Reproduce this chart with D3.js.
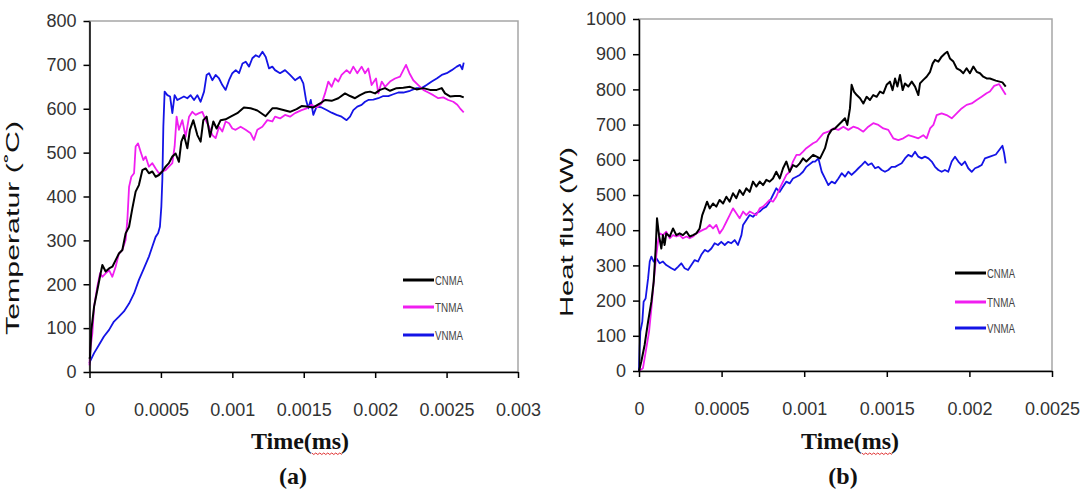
<!DOCTYPE html>
<html>
<head>
<meta charset="utf-8">
<script src="https://cdn.jsdelivr.net/npm/d3@7"></script>
<style>
  body { margin: 0; background: #fff; }
  svg { display: block; }
</style>
</head>
<body>
<svg id="Figure"></svg>
<script>
// series names + ticks
const seriesNames = ['CNMA', 'TNMA', 'VNMA'];
const tempTicks = [0, 100, 200, 300, 400, 500, 600, 700, 800];
const fluxTicks = [0, 100, 200, 300, 400, 500, 600, 700, 800, 900, 1000];
const timeTicksA = [0, 0.0005, 0.001, 0.0015, 0.002, 0.0025, 0.003];
const timeTicksB = [0, 0.0005, 0.001, 0.0015, 0.002, 0.0025];

// (a) temperature, [time, value]
const cnmaTemp = [[0,30],[0.000004,35],[0.000013,96],[0.000032,149],[0.000055,187],[0.000078,225],[0.00009,244],[0.000113,229],[0.000137,236],[0.00016,240],[0.000183,255],[0.000206,270],[0.00023,278],[0.000253,316],[0.000277,331],[0.0003,373],[0.000323,411],[0.000346,426],[0.00037,460],[0.000393,464],[0.000416,453],[0.00044,457],[0.000463,445],[0.000486,449],[0.00051,457],[0.000533,468],[0.000556,476],[0.00058,491],[0.000603,498],[0.000626,479],[0.000643,525],[0.000661,540],[0.000685,510],[0.000703,552],[0.000727,574],[0.000755,540],[0.000778,525],[0.000797,574],[0.00082,582],[0.000844,536],[0.000867,571],[0.00089,555],[0.000918,574],[0.000953,576],[0.000988,582],[0.001035,590],[0.001081,603],[0.001128,601],[0.001175,596],[0.001233,583],[0.00128,601],[0.00131,601],[0.001357,597],[0.001404,593],[0.00145,599],[0.001485,606],[0.00152,605],[0.001567,603],[0.001614,612],[0.001649,620],[0.001695,618],[0.001742,624],[0.001789,635],[0.001824,629],[0.001859,624],[0.001894,631],[0.001929,637],[0.001964,639],[0.001999,635],[0.002034,643],[0.002069,647],[0.002104,641],[0.00215,647],[0.002197,648],[0.002244,650],[0.00229,644],[0.002337,647],[0.002384,643],[0.002431,643],[0.002466,647],[0.002489,635],[0.002524,628],[0.002559,629],[0.002594,629],[0.00262,626]];
const tnmaTemp = [[0,15],[0.000004,40],[0.000008,58],[0.00002,88],[0.000032,149],[0.000055,195],[0.000074,225],[0.00009,217],[0.000113,225],[0.000137,232],[0.00016,217],[0.000183,240],[0.000206,270],[0.00023,278],[0.000253,301],[0.000265,346],[0.000277,422],[0.000293,445],[0.000312,453],[0.000323,514],[0.00034,521],[0.000358,502],[0.000377,483],[0.000393,491],[0.000416,468],[0.00044,476],[0.000463,464],[0.000486,453],[0.00051,457],[0.000533,460],[0.000556,468],[0.00058,476],[0.000596,514],[0.00061,582],[0.000626,552],[0.00065,574],[0.000673,536],[0.000697,582],[0.00072,593],[0.000743,586],[0.000767,590],[0.00079,593],[0.000813,574],[0.000837,559],[0.00086,540],[0.000883,533],[0.000907,559],[0.00093,548],[0.000953,571],[0.000977,567],[0.001,555],[0.001023,552],[0.001058,559],[0.001093,552],[0.001128,544],[0.001151,529],[0.001175,552],[0.00121,559],[0.001245,574],[0.00128,571],[0.001299,582],[0.001334,578],[0.001369,586],[0.001404,582],[0.001439,590],[0.001485,597],[0.00152,601],[0.001555,609],[0.00159,603],[0.001625,612],[0.001649,635],[0.001672,662],[0.001695,650],[0.001719,669],[0.001742,662],[0.001765,677],[0.0018,688],[0.001824,681],[0.001847,696],[0.001875,681],[0.001905,696],[0.001929,681],[0.001952,692],[0.001975,654],[0.002006,669],[0.002022,635],[0.002046,662],[0.002069,650],[0.002104,662],[0.002139,669],[0.002174,673],[0.002197,688],[0.002216,700],[0.00224,681],[0.002267,665],[0.002302,654],[0.002337,643],[0.002372,637],[0.002407,631],[0.002442,624],[0.002477,626],[0.002512,620],[0.002547,616],[0.002575,609],[0.002594,601],[0.00262,592]];
const vnmaTemp = [[0,20],[0.000004,24],[0.000032,43],[0.000067,62],[0.000101,81],[0.000137,96],[0.000171,115],[0.000206,126],[0.000241,138],[0.000277,156],[0.000312,179],[0.000346,210],[0.000381,236],[0.000416,263],[0.00044,286],[0.000463,308],[0.00048,316],[0.000493,331],[0.000503,377],[0.00051,438],[0.000517,559],[0.000526,639],[0.000545,631],[0.000564,628],[0.00058,590],[0.000596,631],[0.000615,620],[0.000638,624],[0.000661,628],[0.000685,624],[0.000708,631],[0.000732,620],[0.000755,631],[0.000778,616],[0.000802,639],[0.00082,677],[0.000837,681],[0.00086,665],[0.000883,677],[0.000907,669],[0.00093,654],[0.000953,643],[0.000977,665],[0.001,681],[0.001024,688],[0.001047,681],[0.001071,703],[0.001094,707],[0.001117,696],[0.00114,715],[0.001164,722],[0.001187,718],[0.001211,730],[0.001234,718],[0.001257,692],[0.00128,696],[0.001299,688],[0.001334,681],[0.001369,688],[0.001404,677],[0.001439,665],[0.001474,673],[0.001497,658],[0.001516,620],[0.001532,601],[0.001549,620],[0.001567,586],[0.00159,605],[0.001625,603],[0.00166,597],[0.001695,591],[0.00173,586],[0.001765,582],[0.0018,574],[0.001824,582],[0.001847,597],[0.001875,605],[0.001905,609],[0.001929,616],[0.001952,620],[0.001987,621],[0.002022,624],[0.002057,629],[0.002092,629],[0.002127,633],[0.002162,637],[0.002197,637],[0.002244,641],[0.00229,647],[0.002325,647],[0.00236,654],[0.002396,662],[0.002431,669],[0.002466,677],[0.002501,681],[0.002536,688],[0.002571,696],[0.002594,700],[0.00261,690],[0.00262,705]];

// (b) heat flux, [time, value]
const cnmaFlux = [[0,0],[0.000014,27],[0.000034,74],[0.000055,140],[0.000075,197],[0.000089,254],[0.000101,348],[0.000109,434],[0.000121,386],[0.000135,348],[0.000145,386],[0.000155,358],[0.000165,391],[0.000186,382],[0.000206,405],[0.000226,386],[0.000246,391],[0.000266,386],[0.000287,396],[0.000307,382],[0.000327,386],[0.000347,391],[0.000367,405],[0.000383,443],[0.000398,462],[0.000412,481],[0.000428,462],[0.000448,476],[0.000468,467],[0.000488,486],[0.000509,476],[0.000529,495],[0.000549,481],[0.000569,505],[0.000589,491],[0.000609,514],[0.00063,500],[0.00065,519],[0.00067,509],[0.00069,538],[0.00071,524],[0.000731,538],[0.000751,528],[0.000771,543],[0.000791,538],[0.000811,547],[0.000831,566],[0.000852,547],[0.000872,576],[0.000892,595],[0.000912,566],[0.000932,585],[0.000953,580],[0.000973,590],[0.000993,604],[0.001013,595],[0.001054,614],[0.001096,604],[0.001126,633],[0.001146,670],[0.001166,685],[0.001186,689],[0.001207,699],[0.001227,708],[0.001247,718],[0.001261,699],[0.001277,746],[0.001287,813],[0.001301,794],[0.001318,784],[0.001338,775],[0.001358,760],[0.001378,779],[0.001398,770],[0.001418,784],[0.001439,779],[0.001459,794],[0.001479,789],[0.001499,813],[0.001519,822],[0.001535,798],[0.00155,831],[0.001564,808],[0.00158,841],[0.001596,798],[0.00161,817],[0.00163,808],[0.001651,822],[0.001671,808],[0.001691,784],[0.001701,817],[0.001721,827],[0.001741,836],[0.001762,850],[0.001778,874],[0.001792,884],[0.001812,879],[0.001832,893],[0.001852,902],[0.001866,907],[0.001882,888],[0.001903,879],[0.001923,860],[0.001943,855],[0.001963,846],[0.001983,860],[0.002003,846],[0.002024,865],[0.002044,850],[0.002064,846],[0.002084,836],[0.002104,831],[0.002124,831],[0.00216,825],[0.0022,820],[0.00222,808]];
const tnmaFlux = [[0,0],[0.000024,8],[0.000044,64],[0.000061,112],[0.000075,178],[0.000089,254],[0.000105,330],[0.000115,367],[0.000125,391],[0.000145,386],[0.000165,396],[0.000186,377],[0.000206,386],[0.000226,382],[0.000246,386],[0.000266,377],[0.000287,382],[0.000307,377],[0.000327,382],[0.000347,391],[0.000367,396],[0.000387,401],[0.000408,405],[0.000428,415],[0.000448,405],[0.000468,415],[0.000488,391],[0.000509,405],[0.000529,424],[0.000549,443],[0.000569,462],[0.000589,448],[0.000609,434],[0.00063,453],[0.00065,443],[0.00067,453],[0.00069,448],[0.00071,443],[0.000731,462],[0.000751,467],[0.000771,476],[0.000791,486],[0.000811,481],[0.000831,495],[0.000852,519],[0.000872,538],[0.000892,557],[0.000912,566],[0.000932,595],[0.000953,614],[0.000973,614],[0.000993,623],[0.001013,633],[0.001054,647],[0.001075,652],[0.001116,675],[0.001146,680],[0.001176,689],[0.001207,685],[0.001237,694],[0.001267,685],[0.001297,694],[0.001328,689],[0.001358,680],[0.001388,694],[0.001418,704],[0.001449,699],[0.001479,689],[0.001509,685],[0.001539,661],[0.00157,656],[0.0016,661],[0.00163,670],[0.00166,666],[0.001691,661],[0.001721,670],[0.001741,661],[0.001762,689],[0.001782,699],[0.001802,727],[0.001832,732],[0.001862,727],[0.001893,718],[0.001923,732],[0.001953,746],[0.001983,756],[0.002014,760],[0.002044,770],[0.002074,779],[0.002104,789],[0.002124,794],[0.00215,810],[0.00218,815],[0.0022,800],[0.00222,785]];
const vnmaFlux = [[0,0],[0.000004,64],[0.000008,112],[0.00002,140],[0.000028,197],[0.00004,206],[0.000055,263],[0.000065,311],[0.000075,325],[0.000089,311],[0.000105,320],[0.000125,306],[0.000145,311],[0.000165,301],[0.000196,292],[0.000216,287],[0.000236,296],[0.000256,306],[0.000276,292],[0.000297,287],[0.000317,301],[0.000337,315],[0.000357,311],[0.000377,330],[0.000398,344],[0.000418,339],[0.000438,348],[0.000458,363],[0.000478,358],[0.000498,367],[0.000519,358],[0.000539,367],[0.000559,363],[0.000579,372],[0.000599,358],[0.00062,386],[0.00063,415],[0.00065,429],[0.00067,443],[0.00069,438],[0.00071,448],[0.000731,453],[0.000751,462],[0.000771,467],[0.000791,481],[0.000811,500],[0.000831,519],[0.000852,509],[0.000872,524],[0.000892,538],[0.000912,533],[0.000932,547],[0.000953,552],[0.000973,557],[0.000993,566],[0.001013,580],[0.001054,595],[0.001066,595],[0.001086,604],[0.001106,566],[0.001126,547],[0.001146,528],[0.001166,538],[0.001186,533],[0.001207,547],[0.001227,562],[0.001247,552],[0.001267,566],[0.001287,557],[0.001307,566],[0.001328,576],[0.001348,585],[0.001368,595],[0.001388,585],[0.001408,590],[0.001429,576],[0.001449,580],[0.001469,571],[0.001489,566],[0.001509,571],[0.001529,580],[0.00155,580],[0.00157,585],[0.00159,590],[0.00161,604],[0.00163,614],[0.001651,609],[0.001671,623],[0.001691,609],[0.001711,604],[0.001731,609],[0.001752,604],[0.001772,595],[0.001792,580],[0.001812,571],[0.001832,566],[0.001852,571],[0.001872,566],[0.001893,595],[0.001913,609],[0.001933,595],[0.001953,585],[0.001973,595],[0.001993,576],[0.002014,566],[0.002034,576],[0.002054,580],[0.002074,585],[0.002094,604],[0.002124,609],[0.00216,615],[0.0022,640],[0.00221,620],[0.00222,590]];

const colors = { CNMA: '#000000', TNMA: '#f01ef0', VNMA: '#1414e6' };

let svg = d3.select('#Figure').attr('width', 1087).attr('height', 493);

function getPanelConfigs() {
    let panelA = {
        left: 89.5, right: 518, top: 21, bottom: 372,
        xMax: 0.003, yMax: 800, xTicks: timeTicksA, yTicks: tempTicks,
        yTitle: 'Temperatur (\u02DaC)', yTitleX: 19, yTitleY: 228, yTitleLen: 214,
        titleX: 300, tag: '(a)', tagX: 293,
        legendX: 403, legendY: [280, 307, 335],
        series: [cnmaTemp, tnmaTemp, vnmaTemp]
    };
    let panelB = {
        left: 639, right: 1052, top: 19, bottom: 371,
        xMax: 0.0025, yMax: 1000, xTicks: timeTicksB, yTicks: fluxTicks,
        yTitle: 'Heat flux (W)', yTitleX: 573, yTitleY: 232, yTitleLen: 170,
        titleX: 850, tag: '(b)', tagX: 843,
        legendX: 955, legendY: [273, 302, 328],
        series: [cnmaFlux, tnmaFlux, vnmaFlux]
    };
    return [panelA, panelB];
}

function getScales(cfg) {
    let xScale = d3.scaleLinear().domain([0, cfg.xMax]).range([cfg.left, cfg.right]);
    let yScale = d3.scaleLinear().domain([0, cfg.yMax]).range([cfg.bottom, cfg.top]);
    return { xScale, yScale };
}

function drawFrame(cfg) {
    svg.append('rect')
        .attr('x', cfg.left).attr('y', cfg.top)
        .attr('width', cfg.right - cfg.left).attr('height', cfg.bottom - cfg.top)
        .attr('fill', 'none').attr('stroke', '#a6a6a6').attr('stroke-width', 1.5);
}

function drawAxes(cfg, scales) {
    let { xScale, yScale } = scales;
    let axisX = d3.axisBottom(xScale).tickValues(cfg.xTicks)
        .tickSize(6).tickSizeOuter(0).tickPadding(25).tickFormat(d => String(d));
    let gx = svg.append('g')
        .attr('transform', `translate(0,${cfg.bottom})`)
        .call(axisX);

    let axisY = d3.axisLeft(yScale).tickValues(cfg.yTicks)
        .tickSize(6).tickSizeOuter(0).tickPadding(7).tickFormat(d => String(d));
    let gy = svg.append('g')
        .attr('transform', `translate(${cfg.left},0)`)
        .call(axisY);

    [gx, gy].forEach(g => {
        g.selectAll('path, line').attr('stroke', '#000').attr('stroke-width', 1.5);
        g.selectAll('text')
            .attr('fill', '#333')
            .style('font-family', '"Liberation Sans", Arial, sans-serif')
            .style('font-size', '18px');
    });
}

function drawLines(cfg, scales) {
    let { xScale, yScale } = scales;
    let line = d3.line()
        .x(d => xScale(d[0]))
        .y(d => yScale(d[1]));
    // blue first, black last so black sits on top
    [2, 1, 0].forEach(i => {
        svg.append('path')
            .datum(cfg.series[i])
            .attr('d', line)
            .attr('fill', 'none')
            .attr('stroke', colors[seriesNames[i]])
            .attr('stroke-width', i === 0 ? 2 : 1.8)
            .attr('stroke-linejoin', 'round');
    });
}

function drawLegend(cfg) {
    seriesNames.forEach((name, i) => {
        let y = cfg.legendY[i];
        svg.append('line')
            .attr('x1', cfg.legendX).attr('x2', cfg.legendX + 31)
            .attr('y1', y).attr('y2', y)
            .attr('stroke', colors[name]).attr('stroke-width', 3);
        svg.append('text')
            .attr('x', cfg.legendX + 32).attr('y', y + 4.5)
            .attr('fill', '#444')
            .attr('textLength', 28).attr('lengthAdjust', 'spacingAndGlyphs')
            .style('font-family', '"Liberation Sans", Arial, sans-serif')
            .style('font-size', '12.5px')
            .text(name);
    });
}

function drawTitles(cfg) {
    svg.append('text')
        .attr('transform', `translate(${cfg.yTitleX},${cfg.yTitleY}) rotate(-90)`)
        .attr('text-anchor', 'middle')
        .attr('textLength', cfg.yTitleLen).attr('lengthAdjust', 'spacingAndGlyphs')
        .attr('fill', '#111')
        .style('font-family', '"Liberation Sans", Arial, sans-serif')
        .style('font-size', '18px')
        .text(cfg.yTitle);

    let title = svg.append('text')
        .attr('x', cfg.titleX).attr('y', 449)
        .attr('text-anchor', 'middle')
        .attr('fill', '#111')
        .style('font-family', '"Liberation Serif", "Times New Roman", serif')
        .style('font-weight', 'bold')
        .style('font-size', '24px')
        .text('Time(ms)');

    // red wavy spell-check underline under "ms"
    let node = title.node();
    let x0 = node.getStartPositionOfChar(5).x;
    let w = node.getSubStringLength(5, 2);
    let pts = d3.range(0, Math.ceil(w / 2) + 1).map(k => [x0 + k * 2, 453 + (k % 2 ? 1.5 : 0)]);
    svg.append('path')
        .attr('d', d3.line()(pts))
        .attr('fill', 'none').attr('stroke', '#e03030').attr('stroke-width', 1);

    svg.append('text')
        .attr('x', cfg.tagX).attr('y', 484)
        .attr('text-anchor', 'middle')
        .attr('fill', '#111')
        .style('font-family', '"Liberation Serif", "Times New Roman", serif')
        .style('font-weight', 'bold')
        .style('font-size', '24px')
        .text(cfg.tag);
}

function drawPanel(cfg) {
    let scales = getScales(cfg);
    drawFrame(cfg);
    drawLines(cfg, scales);
    drawAxes(cfg, scales);
    drawLegend(cfg);
    drawTitles(cfg);
}

getPanelConfigs().forEach(drawPanel);
</script>
</body>
</html>
